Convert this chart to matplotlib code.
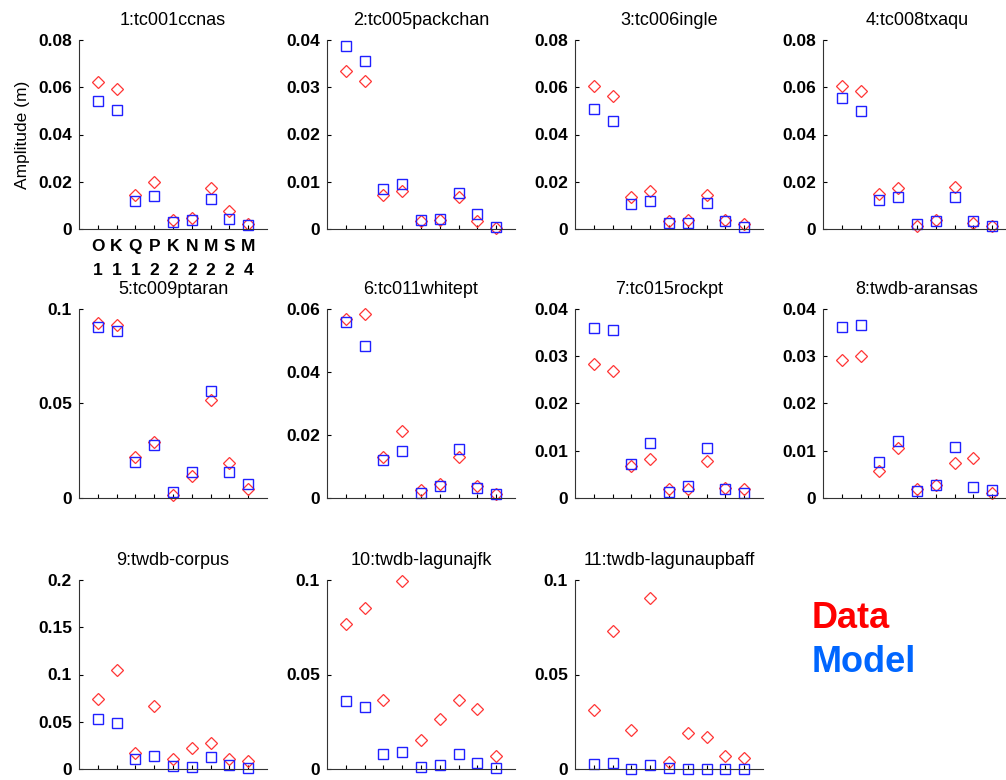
import matplotlib
matplotlib.use('Agg')
import matplotlib.pyplot as plt

plt.rcParams['font.family'] = ['Liberation Sans', 'DejaVu Sans']

stations = ['1:tc001ccnas', '2:tc005packchan', '3:tc006ingle', '4:tc008txaqu',
            '5:tc009ptaran', '6:tc011whitept', '7:tc015rockpt', '8:twdb-aransas',
            '9:twdb-corpus', '10:twdb-lagunajfk', '11:twdb-lagunaupbaff']
constituents = ['O\n1', 'K\n1', 'Q\n1', 'P\n2', 'K\n2', 'N\n2', 'M\n2', 'S\n2', 'M\n4']
ymax = [0.08, 0.04, 0.08, 0.08, 0.1, 0.06, 0.04, 0.04, 0.2, 0.1, 0.1]
ystep = [0.02, 0.01, 0.02, 0.02, 0.05, 0.02, 0.01, 0.01, 0.05, 0.05, 0.05]

# observed amplitudes (m)
data_amp = [
    [0.0621, 0.0592, 0.0145, 0.0197, 0.0039, 0.0046, 0.0173, 0.0076, 0.0023],
    [0.0335, 0.0314, 0.0071, 0.0080, 0.0016, 0.0020, 0.0068, 0.0017, 0.0002],
    [0.0606, 0.0562, 0.0135, 0.0159, 0.0034, 0.0037, 0.0145, 0.0037, 0.0020],
    [0.0606, 0.0583, 0.0149, 0.0173, 0.0011, 0.0037, 0.0176, 0.0025, 0.0011],
    [0.0926, 0.0915, 0.0215, 0.0295, 0.0014, 0.0118, 0.0520, 0.0185, 0.0048],
    [0.0568, 0.0584, 0.0131, 0.0213, 0.0026, 0.0044, 0.0129, 0.0037, 0.0014],
    [0.0284, 0.0268, 0.0067, 0.0083, 0.0018, 0.0019, 0.0078, 0.0021, 0.0020],
    [0.0293, 0.0300, 0.0058, 0.0105, 0.0018, 0.0027, 0.0074, 0.0084, 0.0011],
    [0.0745, 0.1044, 0.0165, 0.0664, 0.0105, 0.0218, 0.0271, 0.0102, 0.0088],
    [0.0765, 0.0850, 0.0365, 0.0995, 0.0153, 0.0265, 0.0365, 0.0316, 0.0071],
    [0.0310, 0.0730, 0.0205, 0.0905, 0.0037, 0.0189, 0.0169, 0.0069, 0.0060],
]
# modelled amplitudes (m)
model_amp = [
    [0.0542, 0.0504, 0.0120, 0.0141, 0.0028, 0.0038, 0.0128, 0.0044, 0.0015],
    [0.0388, 0.0355, 0.0084, 0.0095, 0.0020, 0.0021, 0.0077, 0.0032, 0.0004],
    [0.0507, 0.0456, 0.0106, 0.0118, 0.0025, 0.0025, 0.0110, 0.0032, 0.0010],
    [0.0555, 0.0500, 0.0124, 0.0135, 0.0023, 0.0034, 0.0135, 0.0032, 0.0014],
    [0.0907, 0.0885, 0.0192, 0.0280, 0.0032, 0.0138, 0.0564, 0.0139, 0.0074],
    [0.0560, 0.0483, 0.0121, 0.0148, 0.0016, 0.0037, 0.0156, 0.0031, 0.0014],
    [0.0360, 0.0356, 0.0073, 0.0116, 0.0013, 0.0025, 0.0105, 0.0019, 0.0011],
    [0.0362, 0.0366, 0.0077, 0.0121, 0.0015, 0.0028, 0.0108, 0.0023, 0.0016],
    [0.0531, 0.0485, 0.0109, 0.0134, 0.0032, 0.0025, 0.0123, 0.0042, 0.0007],
    [0.0358, 0.0328, 0.0078, 0.0088, 0.0012, 0.0019, 0.0078, 0.0030, 0.0005],
    [0.0025, 0.0030, 0.0002, 0.0019, 0.0004, 0.0002, 0.0002, 0.0002, 0.0002],
]

W, H = 1006, 780
fig = plt.figure(figsize=(W / 100, H / 100), dpi=100)

col_left = [79, 327, 575, 823]
row_bottom = [229, 498, 769]
aw, ah = 188, 189

def fmt(v):
    if v == 0:
        return '0'
    return ('%g' % v)

x = list(range(1, 10))
for i, name in enumerate(stations):
    r, c = divmod(i, 4)
    ax = fig.add_axes([col_left[c] / W, 1 - row_bottom[r] / H, aw / W, ah / H])
    ax.plot(x, data_amp[i], 'D', ms=6.2, mfc='none', mec='#ff3535', mew=0.9, clip_on=False)
    ax.plot(x, model_amp[i], 's', ms=7.5, mfc='none', mec='#2020ff', mew=1.0, clip_on=False)
    ax.set_xlim(0, 10)
    ax.set_ylim(0, ymax[i])
    n = int(round(ymax[i] / ystep[i]))
    yt = [round(k * ystep[i], 4) for k in range(n + 1)]
    ax.set_yticks(yt)
    ax.set_yticklabels([fmt(v) for v in yt], fontsize=12.5, fontweight='bold')
    ax.set_xticks(x)
    if i == 0:
        ax.set_xticklabels(constituents, fontsize=12.5, fontweight='bold', linespacing=1.75)
        ax.set_ylabel('Amplitude (m)', fontsize=12.5, labelpad=6)
    else:
        ax.set_xticklabels([])
    ax.tick_params(direction='in', length=3, width=0.8, pad=5)
    ax.tick_params(axis='x', pad=7)
    ax.spines['top'].set_visible(False)
    ax.spines['right'].set_visible(False)
    for s in ('left', 'bottom'):
        ax.spines[s].set_linewidth(0.8)
        ax.spines[s].set_color('#333333')
    ax.set_title(name, fontsize=13, pad=11)

fig.text(812 / W, 1 - 618 / H, 'Data', color='#ff0000', fontsize=26,
         fontweight='bold', va='center', ha='left')
fig.text(812 / W, 1 - 663 / H, 'Model', color='#0066ff', fontsize=26,
         fontweight='bold', va='center', ha='left')

fig.savefig('out.png', dpi=100)
